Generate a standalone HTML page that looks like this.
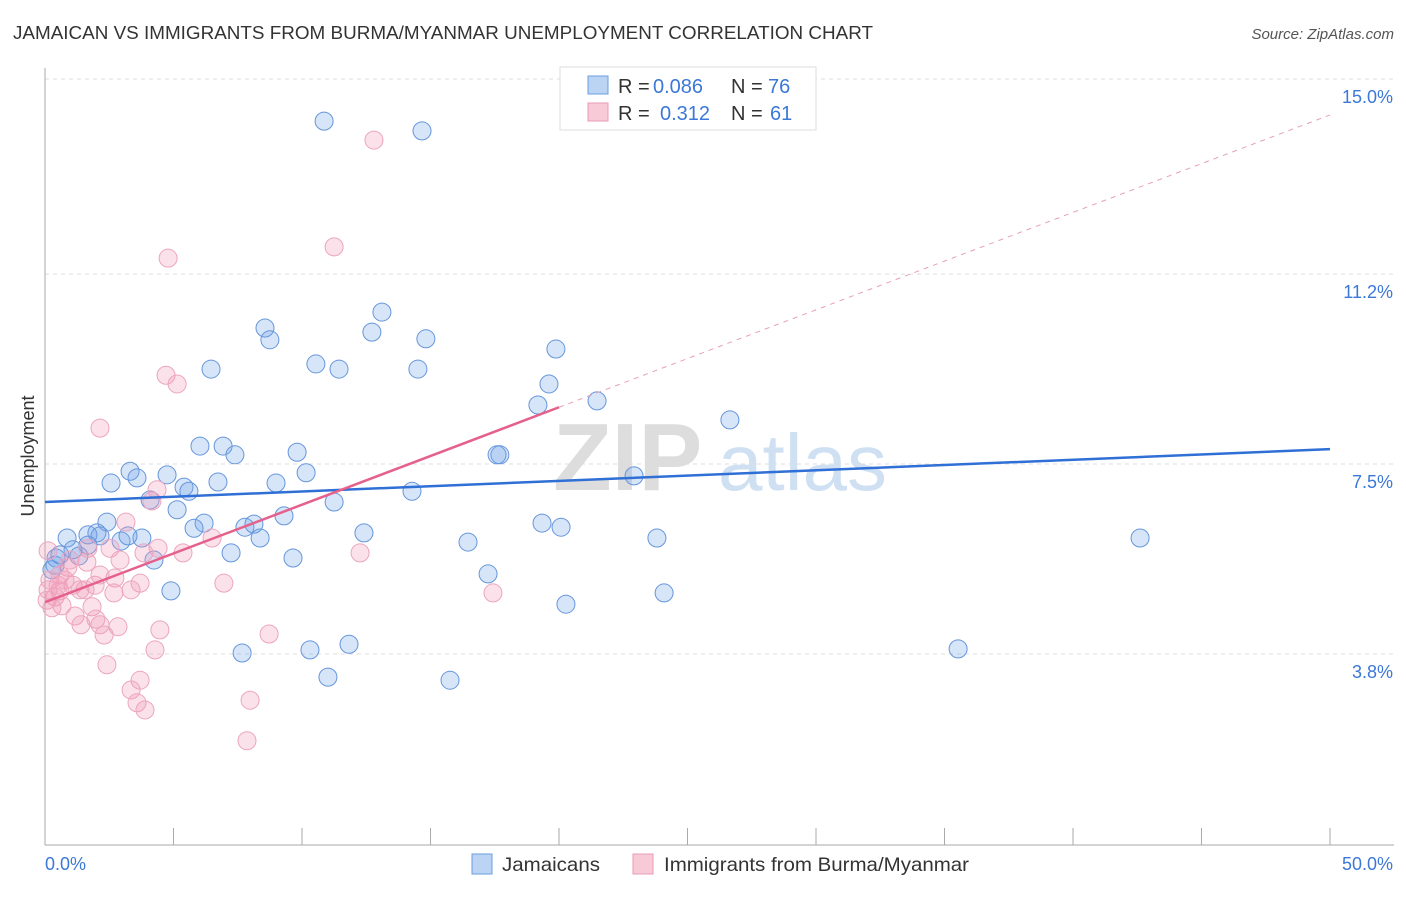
<!DOCTYPE html>
<html><head><meta charset="utf-8">
<style>
body{margin:0;background:#fff;font-family:"Liberation Sans",sans-serif;}
svg text{font-family:"Liberation Sans",sans-serif;}
</style></head>
<body>
<svg id="chart" width="1406" height="892" xmlns="http://www.w3.org/2000/svg">
<text x="13" y="39" font-size="18.5" fill="#333" textLength="860" lengthAdjust="spacingAndGlyphs">JAMAICAN VS IMMIGRANTS FROM BURMA/MYANMAR UNEMPLOYMENT CORRELATION CHART</text>
<text x="1394" y="39" font-size="15" fill="#555" text-anchor="end" font-style="italic">Source: ZipAtlas.com</text>
<text transform="translate(34,456) rotate(-90)" font-size="18" fill="#333" text-anchor="middle">Unemployment</text>
<g>
<text x="553" y="490" font-size="96" fill="#ddd" font-family="Liberation Serif" font-weight="bold">ZIP</text>
<text x="718" y="490" font-size="80" fill="#cfe0f3">atlas</text>
</g>
<g id="grid"></g>
<g id="axes"></g>
<g id="points"></g>
<g id="trends"></g>
<g>
<rect x="560" y="67" width="256" height="63" fill="#fff" stroke="#ddd"/>
<rect x="588" y="76" width="20" height="18" fill="#bcd4f3" stroke="#6a9ee0"/>
<text x="618" y="93" font-size="20" fill="#333">R = </text><text x="653" y="93" font-size="20" fill="#3b78d8">0.086</text>
<text x="731" y="93" font-size="20" fill="#333">N = </text><text x="768" y="93" font-size="20" fill="#3b78d8">76</text>
<rect x="588" y="103" width="20" height="18" fill="#f8cad8" stroke="#e99ab5"/>
<text x="618" y="120" font-size="20" fill="#333">R = </text><text x="660" y="120" font-size="20" fill="#3b78d8">0.312</text>
<text x="731" y="120" font-size="20" fill="#333">N = </text><text x="770" y="120" font-size="20" fill="#3b78d8">61</text>
</g>
<g>
<rect x="472" y="854" width="20" height="20" fill="#bcd4f3" stroke="#6a9ee0"/>
<text x="502" y="871" font-size="19.5" fill="#333" textLength="98" lengthAdjust="spacingAndGlyphs">Jamaicans</text>
<rect x="633" y="854" width="20" height="20" fill="#f8cad8" stroke="#e99ab5"/>
<text x="664" y="871" font-size="19.5" fill="#333" textLength="305" lengthAdjust="spacingAndGlyphs">Immigrants from Burma/Myanmar</text>
</g>
</svg>
<script>
const yTicks=[3.8,7.5,11.2,15.0];
const yTickLabels=["3.8%","7.5%","11.2%","15.0%"];
const xEnds=[0,50];
const xEndLabels=["0.0%","50.0%"];
const blueX=[10.86,14.67,8.56,8.75,13.11,12.72,14.82,10.54,11.44,14.51,19.88,6.46,19.61,21.48,19.18,26.65,6.03,6.93,7.39,9.81,17.70,17.59,3.31,3.58,4.75,2.57,5.41,5.60,6.73,8.99,10.16,22.92,14.28,11.25,4.09,5.14,2.41,2.02,6.19,5.80,7.78,8.13,8.37,9.30,0.86,1.67,2.14,2.96,3.77,3.23,12.41,19.34,20.08,23.81,42.61,16.46,1.09,1.32,0.43,4.24,7.24,9.65,0.39,0.27,17.24,4.90,24.09,20.27,11.83,7.67,10.31,35.53,11.01,15.76,1.67,0.58];
const blueY=[14.18,13.99,10.15,9.92,10.46,10.07,9.94,9.45,9.35,9.35,9.74,9.35,9.06,8.73,8.65,8.36,7.85,7.85,7.68,7.73,7.68,7.68,7.36,7.23,7.29,7.13,7.05,6.97,7.15,7.13,7.33,7.27,6.97,6.76,6.80,6.61,6.37,6.16,6.35,6.25,6.27,6.33,6.06,6.49,6.06,6.12,6.10,6.00,6.06,6.10,6.16,6.35,6.27,6.06,6.06,5.98,5.83,5.71,5.67,5.63,5.77,5.67,5.53,5.44,5.36,5.03,4.99,4.77,3.99,3.82,3.88,3.90,3.35,3.29,5.92,5.73];
const pinkX=[12.80,11.25,4.79,4.71,5.14,2.14,4.36,4.16,3.15,6.50,5.37,4.40,3.85,2.53,1.67,0.12,12.26,1.63,0.89,0.58,0.19,6.96,3.70,2.72,1.95,1.09,1.36,0.58,0.39,0.08,3.35,2.68,1.56,17.43,1.83,0.66,1.17,1.98,2.14,1.40,2.30,2.84,4.47,8.72,4.28,2.41,3.70,3.35,7.98,3.58,3.89,7.86,0.12,0.27,0.78,2.14,0.97,0.51,2.92];
const pinkY=[13.81,11.73,11.51,9.23,9.06,8.20,7.00,6.78,6.37,6.06,5.77,5.86,5.77,5.86,5.86,5.81,5.77,5.59,5.49,5.34,5.24,5.18,5.18,5.28,5.14,5.14,5.05,5.03,4.91,4.85,5.05,4.99,5.05,4.99,4.72,4.74,4.54,4.48,4.37,4.37,4.17,4.33,4.27,4.19,3.88,3.59,3.29,3.10,2.90,2.85,2.71,2.11,5.05,4.70,5.24,5.34,5.63,5.14,5.63];
const blueTrend=[6.76,7.79];
const pinkTrend=[4.81,14.30];
const pinkSolidEnd=20.0;

const NS="http://www.w3.org/2000/svg";
const X0=45,X1=1330,YTOP=79,PXPER=51.34;
function sx(v){return X0+(v-xEnds[0])/(xEnds[1]-xEnds[0])*(X1-X0);}
function sy(v){return YTOP+(15-v)*PXPER;}
function mk(tag,attrs,parent){const e=document.createElementNS(NS,tag);for(const k in attrs)e.setAttribute(k,attrs[k]);parent.appendChild(e);return e;}
const grid=document.getElementById('grid'),axes=document.getElementById('axes'),pts=document.getElementById('points'),tr=document.getElementById('trends');
yTicks.forEach((t,i)=>{
  const l=mk('line',{x1:X0,x2:1394,y1:sy(t),y2:sy(t),stroke:'#ddd','stroke-dasharray':'4,4'},grid);
  
  
  const tx=mk('text',{x:1393,y:sy(t)+24,'font-size':18,fill:'#3b78d8','text-anchor':'end'},axes);
  tx.textContent=yTickLabels[i];
  
  
});
const ya=mk('line',{x1:X0,x2:X0,y1:68,y2:845,stroke:'#aaa'},axes);


const xa=mk('line',{x1:X0,x2:1394,y1:845,y2:845,stroke:'#aaa'},axes);


for(let i=0;i<=10;i++){
  const v=xEnds[0]+i*(xEnds[1]-xEnds[0])/10;
  const tk=mk('line',{x1:sx(v),x2:sx(v),y1:828,y2:845,stroke:'#aaa'},axes);
  
  
}
xEndLabels.forEach((s,i)=>{
  const tx=mk('text',{x:i==0?45:1393,y:870,'font-size':18,fill:'#3b78d8','text-anchor':i==0?'start':'end'},axes);
  tx.textContent=s;
  
  
});
blueX.forEach((x,i)=>{
  const c=mk('circle',{cx:sx(x),cy:sy(blueY[i]),r:9,fill:'rgba(110,160,230,0.28)',stroke:'#6696dc','stroke-width':1},pts);
  
  
});
pinkX.forEach((x,i)=>{
  const c=mk('circle',{cx:sx(x),cy:sy(pinkY[i]),r:9,fill:'rgba(240,150,180,0.28)',stroke:'#eca5bf','stroke-width':1},pts);
  
  
});
const bl=mk('line',{x1:sx(0),y1:sy(blueTrend[0]),x2:sx(50),y2:sy(blueTrend[1]),stroke:'#2f6fd6','stroke-width':2.5},tr);


const pm=pinkTrend[0]+(pinkTrend[1]-pinkTrend[0])*pinkSolidEnd/50;
const pd=mk('line',{x1:sx(pinkSolidEnd),y1:sy(pm),x2:sx(50),y2:sy(pinkTrend[1]),stroke:'#e6a0b8','stroke-width':1,'stroke-dasharray':'5,5'},tr);


const ps=mk('line',{x1:sx(0),y1:sy(pinkTrend[0]),x2:sx(pinkSolidEnd),y2:sy(pm),stroke:'#e5618c','stroke-width':2.5},tr);


</script>
</body></html>
